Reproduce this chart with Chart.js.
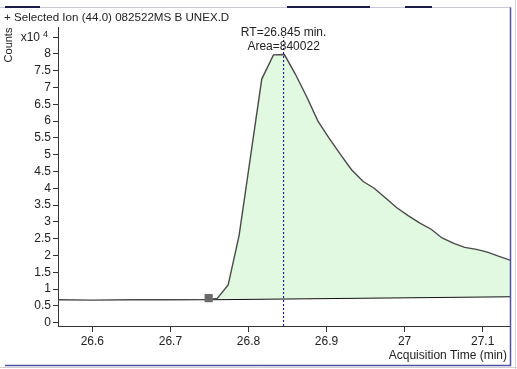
<!DOCTYPE html>
<html>
<head>
<meta charset="utf-8">
<script src="https://cdn.jsdelivr.net/npm/chart.js@4"></script>
<style>
  html, body { margin: 0; padding: 0; background: #fff; }
</style>
</head>
<body>
<canvas id="chart" width="517" height="369"></canvas>
<script>
// chromatogram labels
const titleText = '+ Selected Ion (44.0) 082522MS B UNEX.D';
const yTitle = 'Counts';
const xTitle = 'Acquisition Time (min)';

// signal trace, time in min, counts in x10^4
const timeMin = [26.556, 26.60, 26.65, 26.70, 26.749, 26.760, 26.774, 26.788, 26.803, 26.817,
  26.832, 26.846, 26.860, 26.875, 26.889, 26.903, 26.918, 26.932, 26.947, 26.961,
  26.976, 26.990, 27.005, 27.019, 27.034, 27.048, 27.063, 27.077, 27.092, 27.106,
  27.121, 27.135];
const counts = [0.68, 0.67, 0.68, 0.68, 0.69, 0.72, 1.12, 2.6, 5.0, 7.25,
  7.97, 7.98, 7.4, 6.7, 6.0, 5.5, 5.0, 4.55, 4.2, 4.0,
  3.7, 3.42, 3.18, 2.97, 2.78, 2.52, 2.36, 2.24, 2.18, 2.1,
  1.97, 1.86];

// integration baseline and peak start marker
const baselineTime = [26.749, 27.135];
const baselineCounts = [0.68, 0.77];
const peakStartTime = 26.749;
const peakStartCounts = 0.73;

// peak annotation
const retentionTime = 26.845;
const peakArea = 840022;
const rtLineCounts = [-0.1, 8.5];

const signalPts = timeMin.map((t, i) => ({x: t, y: counts[i]}));
const peakPts = signalPts.filter(p => p.x >= peakStartTime);
const basePts = baselineTime.map((t, i) => ({x: t, y: baselineCounts[i]}));
const rtPts = rtLineCounts.map(v => ({x: retentionTime, y: v}));

const FONT = '"Liberation Sans", Arial, sans-serif';
Chart.defaults.font.family = FONT;
Chart.defaults.font.size = 12;
Chart.defaults.color = '#222';

const textPlugin = {
  id: 'texts',
  afterDraw(chart) {
    const ctx = chart.ctx;
    const xs = chart.scales.x, ys = chart.scales.y;
    ctx.save();
    // window frame
    ctx.strokeStyle = '#c9c9d6';
    ctx.lineWidth = 1;
    ctx.beginPath(); ctx.moveTo(0, 7.5); ctx.lineTo(511, 7.5); ctx.stroke();
    ctx.fillStyle = '#1b1b4a';
    ctx.fillRect(5, 6, 35, 2);
    ctx.fillRect(287, 6, 83, 2);
    ctx.fillRect(405, 6, 27, 2);
    ctx.strokeStyle = '#5050a8';
    ctx.lineWidth = 1.5;
    ctx.beginPath(); ctx.moveTo(510.5, 7.5); ctx.lineTo(510.5, 365.5); ctx.lineTo(5, 365.5); ctx.stroke();
    ctx.strokeStyle = '#d0d0d0';
    ctx.lineWidth = 1;
    ctx.beginPath(); ctx.moveTo(515.5, 0); ctx.lineTo(515.5, 369); ctx.stroke();
    ctx.beginPath(); ctx.moveTo(0, 367.5); ctx.lineTo(517, 367.5); ctx.stroke();

    ctx.fillStyle = '#222';
    ctx.font = '11.6px ' + FONT;
    ctx.textAlign = 'left';
    ctx.textBaseline = 'alphabetic';
    ctx.fillText(titleText, 4, 21);

    // exponent label at top tick
    const yTop = ys.getPixelForValue(8.5);
    ctx.font = '12px ' + FONT;
    ctx.textAlign = 'right';
    ctx.textBaseline = 'middle';
    ctx.fillText('x10', 40, yTop + 1);
    ctx.font = '9px ' + FONT;
    ctx.fillText('4', 48, yTop - 3);

    // y title
    ctx.font = '11px ' + FONT;
    ctx.save();
    ctx.translate(9, 45);
    ctx.rotate(-Math.PI / 2);
    ctx.textAlign = 'center';
    ctx.fillText(yTitle, 0, 0);
    ctx.restore();

    // RT annotation
    const rx = xs.getPixelForValue(retentionTime);
    ctx.font = '12px ' + FONT;
    ctx.textAlign = 'center';
    ctx.fillText('RT=' + retentionTime + ' min.', rx, 33);
    ctx.fillText('Area=' + peakArea, rx, 47);

    // x title
    ctx.textAlign = 'right';
    ctx.fillText(xTitle, 507, 356);
    ctx.restore();
  }
};

const ctx = document.getElementById('chart').getContext('2d');
const chart = new Chart(ctx, {
  type: 'line',
  data: {
    datasets: [
      {
        label: 'peak',
        data: peakPts,
        borderWidth: 0,
        borderColor: 'rgba(0,0,0,0)',
        pointRadius: 0,
        fill: {target: 2, above: '#e1f8e1', below: '#e1f8e1'},
        order: 5
      },
      {
        label: 'signal',
        data: signalPts,
        borderColor: '#4a4a4a',
        borderWidth: 1.4,
        pointRadius: 0,
        fill: false,
        order: 2
      },
      {
        label: 'baseline',
        data: basePts,
        borderColor: '#111',
        borderWidth: 1,
        pointRadius: 0,
        fill: false,
        order: 3
      },
      {
        label: 'rt',
        data: rtPts,
        borderColor: '#000080',
        borderWidth: 1,
        borderDash: [2, 2],
        pointRadius: 0,
        fill: false,
        order: 1
      },
      {
        label: 'start',
        data: [{x: peakStartTime, y: peakStartCounts}],
        showLine: false,
        pointStyle: 'rect',
        pointRadius: 5.8,
        pointBackgroundColor: '#6a6a6a',
        pointBorderColor: '#6a6a6a',
        pointBorderWidth: 0,
        order: 0
      }
    ]
  },
  options: {
    responsive: false,
    animation: false,
    layout: { padding: { left: 0, top: 27, right: 7, bottom: 0 } },
    plugins: { legend: { display: false }, tooltip: { enabled: false } },
    scales: {
      x: {
        type: 'linear',
        min: 26.556,
        max: 27.135,
        afterFit(scale) { scale.height = 43; },
        border: { display: true, color: '#333', width: 1 },
        grid: { drawOnChartArea: false, drawTicks: true, tickLength: 6, color: '#333' },
        ticks: {
          stepSize: 0.1,
          includeBounds: false,
          maxRotation: 0,
          autoSkip: false,
          padding: 2,
          color: '#222',
          callback: v => String(Math.round(v * 10) / 10)
        }
      },
      y: {
        min: -0.1,
        max: 8.8,
        afterFit(scale) { scale.width = 58; },
        border: { display: true, color: '#333', width: 1 },
        grid: { drawOnChartArea: false, drawTicks: true, tickLength: 5, color: '#333' },
        ticks: {
          stepSize: 0.5,
          includeBounds: false,
          autoSkip: false,
          padding: 2,
          color: '#222',
          callback: v => (v > 8.4 ? '' : String(Math.round(v * 10) / 10))
        }
      }
    }
  },
  plugins: [textPlugin]
});
</script>
</body>
</html>
